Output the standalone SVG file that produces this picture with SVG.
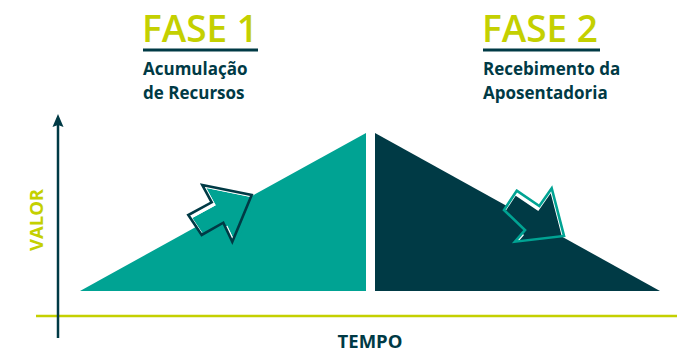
<svg xmlns="http://www.w3.org/2000/svg" width="677" height="352" viewBox="0 0 677 352">
<style>
.title{font-family:"Open Sans","Liberation Sans",sans-serif;font-size:37px;font-weight:600;fill:#c4d000}
.sub{font-family:"Open Sans","Liberation Sans",sans-serif;font-size:17px;font-weight:700;fill:#003a45}
.axis-label{font-family:"Open Sans","Liberation Sans",sans-serif;font-size:18.5px;font-weight:700}
.rule{stroke:#003a45;stroke-width:3}
</style>
<defs>
<clipPath id="clipA1"><polygon points="202.3,185 251.7,195 232.3,241.7 223.3,222.7 201.7,235 188.3,215 211.7,202.3"/></clipPath>
<clipPath id="clipA2"><polygon points="516.7,190.7 539.3,206 551.7,188.3 564,236 515,241.7 525,230 504,210"/></clipPath>
</defs>
<rect width="677" height="352" fill="#ffffff"/>

<g id="phase1">
  <polygon points="80,291 366,133 366,291" fill="#00a393"/>
  <text class="title" x="142" y="42">FASE 1</text>
  <line class="rule" x1="143" y1="50" x2="258" y2="50"/>
  <text class="sub" x="143" y="75">Acumulação</text>
  <text class="sub" x="143" y="99">de Recursos</text>
  <g id="arrow-up">
    <polygon points="202.3,185 251.7,195 232.3,241.7 223.3,222.7 201.7,235 188.3,215 211.7,202.3" fill="#ffffff"/>
    <polygon clip-path="url(#clipA1)" transform="translate(4,3)" points="202.3,185 251.7,195 232.3,241.7 223.3,222.7 201.7,235 188.3,215 211.7,202.3" fill="#00a393"/>
    <polygon points="202.3,185 251.7,195 232.3,241.7 223.3,222.7 201.7,235 188.3,215 211.7,202.3" fill="none" stroke="#003a45" stroke-width="2.6" stroke-linejoin="miter"/>
  </g>
</g>

<g id="phase2">
  <polygon points="375,133 375,291 660,291" fill="#003a45"/>
  <text class="title" x="482" y="42">FASE 2</text>
  <line class="rule" x1="483" y1="50" x2="600" y2="50"/>
  <text class="sub" x="483" y="75">Recebimento da</text>
  <text class="sub" x="483" y="99">Aposentadoria</text>
  <g id="arrow-down">
    <polygon points="516.7,190.7 539.3,206 551.7,188.3 564,236 515,241.7 525,230 504,210" fill="#ffffff"/>
    <g clip-path="url(#clipA2)"><polygon transform="translate(-1,5)" points="516.7,190.7 539.3,206 551.7,188.3 564,236 515,241.7 525,230 504,210" fill="#003a45"/></g>
    <polygon points="516.7,190.7 539.3,206 551.7,188.3 564,236 515,241.7 525,230 504,210" fill="none" stroke="#00a393" stroke-width="2.6"/>
  </g>
</g>

<g id="axes">
  <line x1="36" y1="316" x2="677" y2="316" stroke="#c4d000" stroke-width="2.5"/>
  <line x1="58" y1="125" x2="58" y2="338" stroke="#003a45" stroke-width="2.5"/>
  <polygon points="58,114 52.5,127 58,125 63.5,127" fill="#003a45"/>
  <text class="axis-label" fill="#c4d000" transform="translate(43,220) rotate(-90)" text-anchor="middle">VALOR</text>
  <text class="axis-label" fill="#003a45" x="370" y="348" text-anchor="middle">TEMPO</text>
</g>
</svg>
